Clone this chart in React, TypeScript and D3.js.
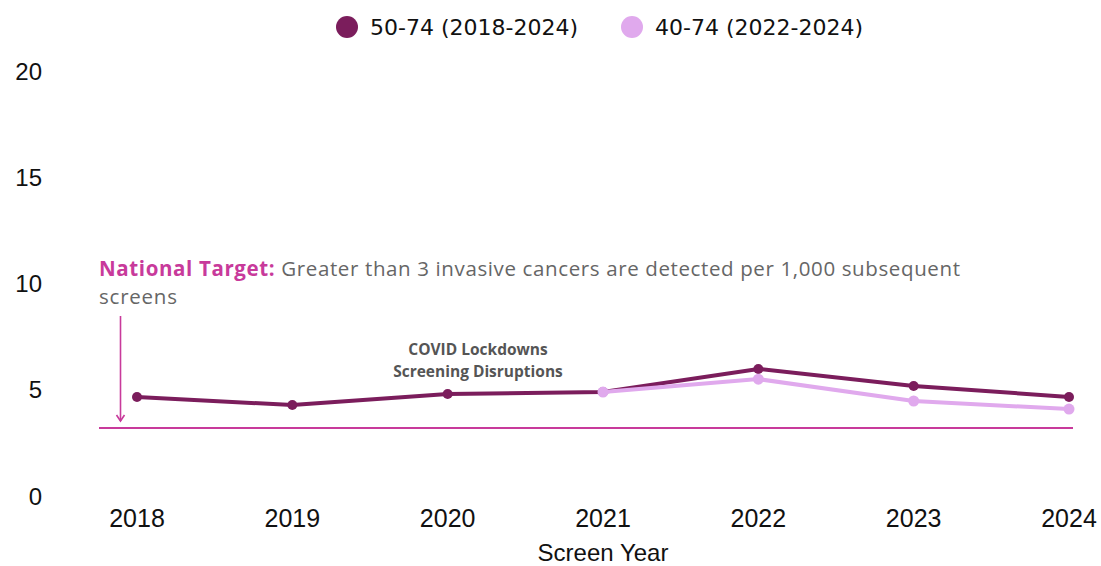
import React from "react";
import * as d3 from "d3";

const years = [2018, 2019, 2020, 2021, 2022, 2023, 2024];
const series5074 = [4.66, 4.28, 4.8, 4.89, 5.98, 5.18, 4.66];
const years4074 = [2021, 2022, 2023, 2024];
const series4074 = [4.89, 5.5, 4.47, 4.09];
const yTicks = [0, 5, 10, 15, 20];
const targetValue = 3.2;
const legendLabels = ["50-74 (2018-2024)", "40-74 (2022-2024)"];

const W = 1101;
const H = 566;
const DARK = "#7b1d5c";
const LIGHT = "#e0a9ed";
const PINK = "#c83a9b";

export default function App() {
  const x = d3.scalePoint<number>().domain(years).range([137, 1069]);
  const y = d3.scaleLinear().domain([0, 20]).range([496, 71]);
  const line = d3
    .line<[number, number]>()
    .x((d) => x(d[0])!)
    .y((d) => y(d[1]));
  const dark: [number, number][] = years.map((yr, i) => [yr, series5074[i]]);
  const light: [number, number][] = years4074.map((yr, i) => [yr, series4074[i]]);
  const sans = "'Liberation Sans', Arial, sans-serif";
  const plex = "'Open Sans', 'Noto Sans', sans-serif";
  const dejavu = "'DejaVu Sans', sans-serif";
  const ty = y(targetValue);

  return (
    <svg width={W} height={H} style={{ position: "absolute", left: 0, top: 0 }}>
      {/* legend */}
      <circle cx={347} cy={27} r={11} fill={DARK} />
      <text x={370} y={35} fontFamily={dejavu} fontSize={22} fill="#111">{legendLabels[0]}</text>
      <circle cx={632} cy={27} r={11} fill={LIGHT} />
      <text x={655} y={35} fontFamily={dejavu} fontSize={22} fill="#111">{legendLabels[1]}</text>

      {/* y ticks */}
      {yTicks.map((t) => (
        <text key={t} x={42} y={y(t)} dy="0.36em" textAnchor="end" fontFamily={sans} fontSize={24} fill="#111">
          {t}
        </text>
      ))}
      {/* x ticks */}
      {years.map((yr) => (
        <text key={yr} x={x(yr)} y={527} textAnchor="middle" fontFamily={sans} fontSize={25} fill="#111">
          {yr}
        </text>
      ))}
      <text x={603} y={561} textAnchor="middle" fontFamily={sans} fontSize={24} fill="#111">Screen Year</text>

      {/* target */}
      <line x1={99} x2={1073} y1={ty} y2={ty} stroke={PINK} strokeWidth={1.8} />
      <line x1={120.5} x2={120.5} y1={316} y2={421} stroke={PINK} strokeWidth={1.6} />
      <path d="M116.5,415 L120.5,421 L124.5,415" fill="none" stroke={PINK} strokeWidth={1.6} />
      <text x={99} y={276} fontFamily={plex} fontSize={20.5} textLength={861} lengthAdjust="spacing">
        <tspan fill={PINK} fontWeight="bold">National Target:</tspan>
        <tspan fill="#666"> Greater than 3 invasive cancers are detected per 1,000 subsequent</tspan>
      </text>
      <text x={99} y={304} fontFamily={plex} fontSize={20.5} fill="#666" textLength={78} lengthAdjust="spacing">screens</text>

      {/* covid annotation */}
      <text x={478} y={355} textAnchor="middle" fontFamily={plex} fontSize={15.5} fontWeight="bold" fill="#555">COVID Lockdowns</text>
      <text x={478} y={377} textAnchor="middle" fontFamily={plex} fontSize={15.5} fontWeight="bold" fill="#555">Screening Disruptions</text>

      {/* lines */}
      <path d={line(dark)!} fill="none" stroke={DARK} strokeWidth={4} />
      {dark.map((d) => (
        <circle key={"d" + d[0]} cx={x(d[0])} cy={y(d[1])} r={5} fill={DARK} />
      ))}
      <path d={line(light)!} fill="none" stroke={LIGHT} strokeWidth={4} />
      {light.map((d) => (
        <circle key={"l" + d[0]} cx={x(d[0])} cy={y(d[1])} r={5.5} fill={LIGHT} />
      ))}
    </svg>
  );
}
